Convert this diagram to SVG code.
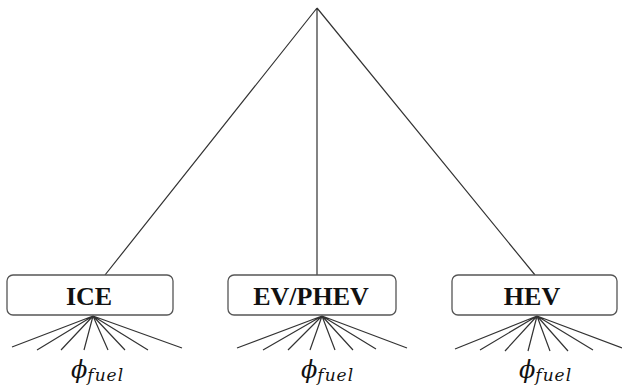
<svg xmlns="http://www.w3.org/2000/svg" width="622" height="387" viewBox="0 0 622 387">
<style>
.box{fill:#fff;stroke:#555;stroke-width:1.3}
.ln{stroke:#333;stroke-width:1.2;fill:none}
.lbl{font-family:"Liberation Serif","Times New Roman",serif;font-weight:bold;font-size:26px;fill:#111;text-anchor:middle}
.phi{font-family:"DejaVu Serif","Liberation Serif",serif;font-style:italic;fill:#111}
.sub{font-size:17px;letter-spacing:1px}
</style>
<rect width="622" height="387" fill="#fff"/>
<g id="connectors">
<path class="ln" d="M317,8 L105,275 M317,8 L317,275 M317,8 L535,275"/>
<path class="ln" d="M93,316 L12,347 M93,316 L37,350 M93,316 L61,350 M93,316 L84,350 M93,316 L108,350 M93,316 L125,350 M93,316 L148,350 M93,316 L182,348"/>
<path class="ln" d="M322,316 L237,348 M322,316 L263,350 M322,316 L288,350 M322,316 L310,350 M322,316 L335,350 M322,316 L353,350 M322,316 L376,349 M322,316 L407,348"/>
<path class="ln" d="M537,316 L455,349 M537,316 L480,350 M537,316 L505,351 M537,316 L528,351 M537,316 L550,351 M537,316 L568,351 M537,316 L593,350 M537,316 L622,348"/>
</g>
<g id="ice">
<rect class="box" x="7" y="275" width="166" height="40" rx="6"/>
<text class="lbl" x="89" y="305">ICE</text>
<text class="phi" x="71" y="378"><tspan font-size="24">ϕ</tspan><tspan class="sub" dy="3">fuel</tspan></text>
</g>
<g id="evphev">
<rect class="box" x="228" y="275" width="168" height="40" rx="6"/>
<text class="lbl" x="311" y="305">EV/PHEV</text>
<text class="phi" x="301" y="378"><tspan font-size="24">ϕ</tspan><tspan class="sub" dy="3">fuel</tspan></text>
</g>
<g id="hev">
<rect class="box" x="452" y="275" width="165" height="40" rx="6"/>
<text class="lbl" x="532" y="305">HEV</text>
<text class="phi" x="519" y="378"><tspan font-size="24">ϕ</tspan><tspan class="sub" dy="3">fuel</tspan></text>
</g>
</svg>
